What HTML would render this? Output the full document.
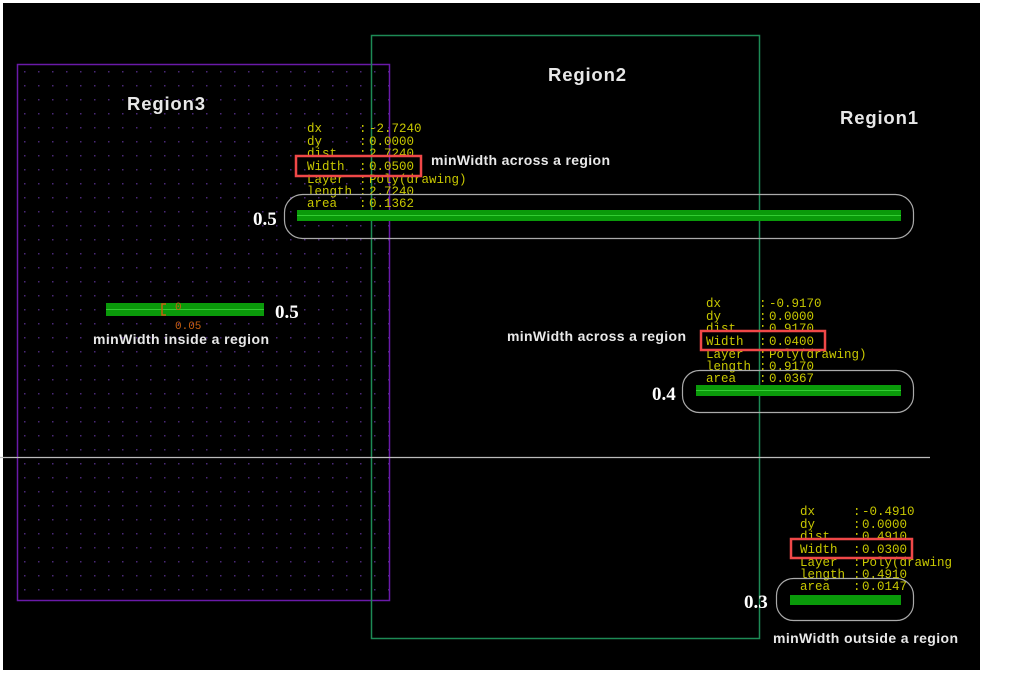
<!DOCTYPE html>
<html><head><style>
body{margin:0;background:#fff;width:1013px;height:674px;overflow:hidden}
svg{display:block}
.y{font-family:"Liberation Mono",monospace;font-size:12.5px;fill:#c8c800}
.w{font-family:"Liberation Sans",sans-serif;font-weight:bold;fill:#e8e8e8}
.n{font-family:"Liberation Serif",serif;font-weight:bold;font-size:19px;fill:#fff}
</style></head><body>
<svg width="1013" height="674" xmlns="http://www.w3.org/2000/svg">
<defs>
<pattern id="g" width="14" height="14" patternUnits="userSpaceOnUse" x="17" y="64">
<rect x="7" y="7" width="1.5" height="1.5" fill="#4a2878"/></pattern>
</defs>
<rect x="3" y="3" width="977" height="667" fill="#000"/>
<rect x="17" y="64" width="373" height="536" fill="url(#g)"/>
<rect x="17.5" y="64.5" width="372" height="536" fill="none" stroke="#6a1aa8" stroke-width="1.5"/>
<rect x="371.5" y="35.5" width="388" height="603" fill="none" stroke="#1d8a55" stroke-width="1.5"/>
<line x1="0" y1="457.5" x2="930" y2="457.5" stroke="#bbb" stroke-width="1.2"/>
<text class="w" x="127" y="110" font-size="18.5" textLength="78">Region3</text>
<text class="w" x="548" y="81" font-size="18.5" textLength="78">Region2</text>
<text class="w" x="840" y="124" font-size="18.5" textLength="78">Region1</text>

<!-- block 1 -->
<g class="y">
<text x="307" y="132">dx</text><text x="359" y="132">:</text><text x="369" y="132">-2.7240</text>
<text x="307" y="145">dy</text><text x="359" y="145">:</text><text x="369" y="145">0.0000</text>
<text x="307" y="157">dist</text><text x="359" y="157">:</text><text x="369" y="157">2.7240</text>
<text x="307" y="170">Width</text><text x="359" y="170">:</text><text x="369" y="170">0.0500</text>
<text x="307" y="183">Layer</text><text x="359" y="183">:</text><text x="369" y="183">Poly(drawing)</text>
<text x="307" y="195">length</text><text x="359" y="195">:</text><text x="369" y="195">2.7240</text>
<text x="307" y="207">area</text><text x="359" y="207">:</text><text x="369" y="207">0.1362</text>
</g>
<rect x="296" y="156" width="125" height="20" fill="none" stroke="#f04848" stroke-width="2.5"/>
<text class="w" x="431" y="165" font-size="14" textLength="179">minWidth across a region</text>
<rect x="284.5" y="194.5" width="629" height="44" rx="18" fill="none" stroke="#aaa" stroke-width="1.2"/>
<rect x="297" y="210" width="604" height="11" fill="#0a9a0a"/>
<line x1="297" y1="215.5" x2="901" y2="215.5" stroke="#3c3" stroke-width="1"/>
<text class="n" x="253" y="225">0.5</text>

<!-- block 2 -->
<g class="y">
<text x="706" y="307">dx</text><text x="759" y="307">:</text><text x="769" y="307">-0.9170</text>
<text x="706" y="320">dy</text><text x="759" y="320">:</text><text x="769" y="320">0.0000</text>
<text x="706" y="332">dist</text><text x="759" y="332">:</text><text x="769" y="332">0.9170</text>
<text x="706" y="345">Width</text><text x="759" y="345">:</text><text x="769" y="345">0.0400</text>
<text x="706" y="358">Layer</text><text x="759" y="358">:</text><text x="769" y="358">Poly(drawing)</text>
<text x="706" y="370">length</text><text x="759" y="370">:</text><text x="769" y="370">0.9170</text>
<text x="706" y="382">area</text><text x="759" y="382">:</text><text x="769" y="382">0.0367</text>
</g>
<rect x="701" y="331" width="124" height="19" fill="none" stroke="#f04848" stroke-width="2.5"/>
<text class="w" x="507" y="341" font-size="14" textLength="179">minWidth across a region</text>
<rect x="682.5" y="370.5" width="231" height="42" rx="17" fill="none" stroke="#aaa" stroke-width="1.2"/>
<rect x="696" y="385" width="205" height="11" fill="#0a9a0a"/>
<line x1="696" y1="390.5" x2="901" y2="390.5" stroke="#3c3" stroke-width="1"/>
<text class="n" x="652" y="400">0.4</text>

<!-- block 3 -->
<g class="y">
<text x="800" y="515">dx</text><text x="853" y="515">:</text><text x="862" y="515">-0.4910</text>
<text x="800" y="528">dy</text><text x="853" y="528">:</text><text x="862" y="528">0.0000</text>
<text x="800" y="540">dist</text><text x="853" y="540">:</text><text x="862" y="540">0.4910</text>
<text x="800" y="553">Width</text><text x="853" y="553">:</text><text x="862" y="553">0.0300</text>
<text x="800" y="566">Layer</text><text x="853" y="566">:</text><text x="862" y="566">Poly(drawing</text>
<text x="800" y="578">length</text><text x="853" y="578">:</text><text x="862" y="578">0.4910</text>
<text x="800" y="590">area</text><text x="853" y="590">:</text><text x="862" y="590">0.0147</text>
</g>
<rect x="791" y="539" width="121" height="19" fill="none" stroke="#f04848" stroke-width="2.5"/>
<rect x="776.5" y="578.5" width="137" height="42" rx="17" fill="none" stroke="#aaa" stroke-width="1.2"/>
<rect x="790" y="595" width="111" height="10" fill="#0a9a0a"/>
<text class="n" x="744" y="608">0.3</text>
<text class="w" x="773" y="643" font-size="14" textLength="185">minWidth outside a region</text>

<!-- region3 bar -->
<rect x="106" y="303" width="158" height="13" fill="#0a9a0a"/>
<line x1="106" y1="309.5" x2="264" y2="309.5" stroke="#3c3" stroke-width="1"/>
<path d="M166 304 h-4 v11 h4" fill="none" stroke="#c86010" stroke-width="1.5"/>
<text x="175" y="310" font-family="Liberation Mono,monospace" font-size="11" fill="#c86010">0</text>
<text x="175" y="329" font-family="Liberation Mono,monospace" font-size="11" fill="#c86010">0.05</text>
<text class="n" x="275" y="318">0.5</text>
<text class="w" x="93" y="344" font-size="14" textLength="176">minWidth inside a region</text>
</svg>
</body></html>
